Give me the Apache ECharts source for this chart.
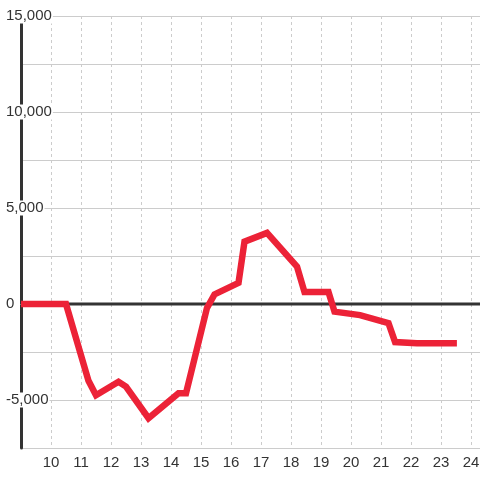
<!DOCTYPE html>
<html>
<head>
<meta charset="utf-8">
<script src="https://cdn.jsdelivr.net/npm/echarts@6/dist/echarts.min.js"></script>
<style>
html,body{margin:0;padding:0;background:#fff;}
#c{width:480px;height:480px;}
</style>
</head>
<body>
<div id="c"></div>
<script>
// Data
var hours = [9, 10.5, 11.25, 11.5, 12.25, 12.5, 13.25, 14.25, 14.5, 15.2, 15.45, 16.25, 16.45, 17.2, 18.2, 18.45, 19.25, 19.45, 20.3, 21.25, 21.47, 22.2, 23.53];
var values = [0, 0, -4000, -4750, -4050, -4300, -5950, -4650, -4650, -200, 500, 1100, 3250, 3700, 1950, 620, 620, -400, -580, -1000, -1980, -2040, -2040];
var xTicks = [10, 11, 12, 13, 14, 15, 16, 17, 18, 19, 20, 21, 22, 23, 24];
var yLabelValues = [-5000, 0, 5000, 10000, 15000];
var xMin = 9, xMax = 25, yMin = -7500, yMax = 15000;

var lineData = hours.map(function (h, i) { return [h, values[i]]; });
var zeroData = [[xMin, 0], [xMax, 0]];

var chart = echarts.init(document.getElementById('c'), null, {renderer: 'canvas'});
chart.setOption({
  animation: false,
  backgroundColor: '#ffffff',
  grid: {left: 21, right: -21, top: 16, bottom: 32, containLabel: false, outerBoundsMode: 'none'},
  xAxis: {
    type: 'value', min: xMin, max: xMax, interval: 1,
    axisLine: {show: true, lineStyle: {color: '#cccccc', width: 1}},
    axisTick: {show: false},
    axisLabel: {
      margin: 7, color: '#333', fontSize: 15, fontFamily: 'Liberation Sans',
      formatter: function (v) { return xTicks.indexOf(v) >= 0 ? String(v) : ''; }
    },
    splitLine: {show: true, lineStyle: {color: '#cccccc', type: [3, 3], width: 1}}
  },
  yAxis: {
    type: 'value', min: yMin, max: yMax, interval: 2500,
    axisLine: {show: true, lineStyle: {color: '#333333', width: 3}},
    axisTick: {show: false},
    axisLabel: {
      margin: 15, align: 'left', color: '#333', fontSize: 15, fontFamily: 'Liberation Sans',
      backgroundColor: '#ffffff', padding: [0, 1, 0, 0], lineHeight: 15,
      formatter: function (v) {
        return yLabelValues.indexOf(v) >= 0 ? v.toLocaleString('en-US') : '';
      }
    },
    splitLine: {show: true, lineStyle: {color: '#cccccc', width: 1}}
  },
  series: [
    {
      type: 'line', data: zeroData, symbol: 'none', silent: true, z: 1,
      lineStyle: {color: '#333333', width: 3}
    },
    {
      type: 'line', data: lineData, symbol: 'none', z: 3,
      lineStyle: {color: '#ec2237', width: 6.5, cap: 'butt', join: 'miter'}
    }
  ]
});
</script>
</body>
</html>
